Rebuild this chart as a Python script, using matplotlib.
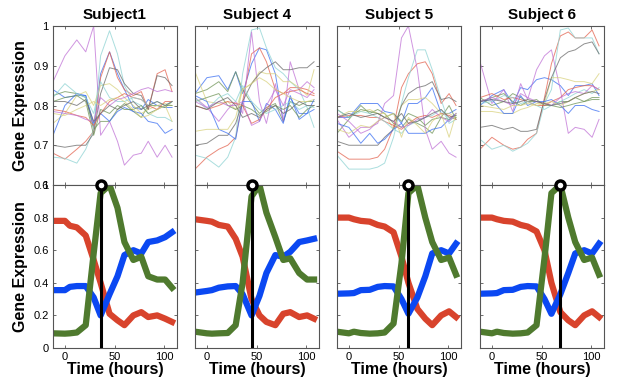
import numpy as np
import matplotlib
matplotlib.use("Agg")
import matplotlib.pyplot as plt

plt.rcParams['font.family'] = ['Liberation Sans', 'DejaVu Sans']

# sampling times (hours)
t = [-12, 0, 12, 21, 29, 36, 45, 53, 60, 69, 77, 84, 93, 101, 108]
tb = [-12, 0, 5, 12, 21, 29, 36, 45, 53, 60, 69, 77, 84, 93, 101, 108]

subjects = ["Subject1", "Subject 4", "Subject 5", "Subject 6"]
peak_time = [36, 45, 60, 69]

# top panels: 14 genes per subject
s1_genes = [
    [0.84, 0.82, 0.825, 0.825, 0.745, 0.88, 0.935, 0.88, 0.84, 0.795, 0.79, 0.815, 0.80, 0.795, 0.795],
    [0.825, 0.835, 0.83, 0.82, 0.74, 0.76, 0.76, 0.79, 0.805, 0.785, 0.77, 0.80, 0.80, 0.795, 0.81],
    [0.68, 0.665, 0.69, 0.71, 0.735, 0.87, 0.935, 0.87, 0.84, 0.825, 0.835, 0.79, 0.88, 0.89, 0.835],
    [0.67, 0.667, 0.655, 0.69, 0.74, 0.925, 0.988, 0.93, 0.85, 0.81, 0.80, 0.78, 0.77, 0.77, 0.76],
    [0.86, 0.925, 0.965, 0.935, 1.0, 0.725, 0.76, 0.71, 0.65, 0.675, 0.68, 0.71, 0.67, 0.70, 0.67],
    [0.755, 0.78, 0.825, 0.835, 0.80, 0.85, 0.855, 0.84, 0.82, 0.80, 0.78, 0.79, 0.80, 0.805, 0.80],
    [0.70, 0.695, 0.70, 0.70, 0.73, 0.83, 0.895, 0.89, 0.855, 0.83, 0.825, 0.79, 0.875, 0.87, 0.85],
    [0.725, 0.80, 0.83, 0.825, 0.755, 0.78, 0.76, 0.785, 0.795, 0.785, 0.78, 0.76, 0.755, 0.73, 0.74],
    [0.81, 0.82, 0.825, 0.81, 0.725, 0.79, 0.78, 0.80, 0.79, 0.79, 0.80, 0.78, 0.79, 0.80, 0.80],
    [0.79, 0.785, 0.775, 0.77, 0.75, 0.78, 0.81, 0.82, 0.83, 0.82, 0.815, 0.80, 0.79, 0.81, 0.81],
    [0.82, 0.855, 0.83, 0.82, 0.78, 0.86, 0.82, 0.81, 0.81, 0.82, 0.815, 0.80, 0.81, 0.80, 0.81],
    [0.785, 0.78, 0.775, 0.765, 0.76, 0.82, 0.80, 0.815, 0.82, 0.83, 0.84, 0.845, 0.835, 0.84, 0.835],
    [0.78, 0.775, 0.79, 0.80, 0.81, 0.80, 0.815, 0.82, 0.81, 0.79, 0.77, 0.775, 0.79, 0.80, 0.76],
    [0.81, 0.81, 0.80, 0.815, 0.76, 0.78, 0.80, 0.79, 0.80, 0.81, 0.79, 0.80, 0.81, 0.80, 0.81],
]
s4_genes = [
    [0.83, 0.87, 0.875, 0.84, 0.885, 0.83, 0.905, 0.945, 0.94, 0.88, 0.76, 0.82, 0.78, 0.78, 0.79],
    [0.83, 0.84, 0.86, 0.835, 0.885, 0.84, 0.805, 0.78, 0.795, 0.805, 0.76, 0.81, 0.80, 0.81, 0.81],
    [0.64, 0.67, 0.69, 0.70, 0.72, 0.81, 0.93, 0.945, 0.91, 0.84, 0.83, 0.845, 0.845, 0.84, 0.83],
    [0.675, 0.667, 0.645, 0.67, 0.72, 0.88, 0.99, 0.995, 0.945, 0.895, 0.88, 0.86, 0.84, 0.795, 0.745],
    [0.82, 0.795, 0.76, 0.79, 0.81, 0.78, 0.985, 0.81, 0.755, 0.855, 0.76, 0.91, 0.84, 0.86, 0.845],
    [0.885, 0.81, 0.805, 0.81, 0.79, 0.84, 0.855, 0.885, 0.88, 0.88, 0.86, 0.86, 0.845, 0.825, 0.89],
    [0.70, 0.705, 0.725, 0.725, 0.755, 0.81, 0.855, 0.88, 0.895, 0.91, 0.89, 0.89, 0.895, 0.895, 0.91],
    [0.825, 0.81, 0.74, 0.73, 0.715, 0.81, 0.81, 0.76, 0.805, 0.79, 0.755, 0.825, 0.765, 0.78, 0.815],
    [0.81, 0.82, 0.83, 0.80, 0.79, 0.80, 0.79, 0.775, 0.785, 0.80, 0.79, 0.80, 0.77, 0.79, 0.80],
    [0.80, 0.79, 0.80, 0.81, 0.805, 0.80, 0.755, 0.765, 0.79, 0.82, 0.83, 0.835, 0.84, 0.83, 0.825],
    [0.82, 0.79, 0.82, 0.83, 0.81, 0.85, 0.81, 0.79, 0.78, 0.79, 0.80, 0.81, 0.79, 0.80, 0.795],
    [0.81, 0.795, 0.81, 0.80, 0.80, 0.81, 0.75, 0.76, 0.80, 0.84, 0.80, 0.84, 0.83, 0.82, 0.84],
    [0.735, 0.74, 0.74, 0.74, 0.77, 0.84, 0.855, 0.87, 0.86, 0.84, 0.83, 0.82, 0.81, 0.81, 0.815],
    [0.80, 0.79, 0.81, 0.82, 0.80, 0.77, 0.78, 0.77, 0.79, 0.80, 0.78, 0.79, 0.81, 0.80, 0.80],
]
s5_genes = [
    [0.77, 0.77, 0.805, 0.805, 0.805, 0.785, 0.78, 0.755, 0.805, 0.805, 0.82, 0.845, 0.78, 0.78, 0.79],
    [0.73, 0.765, 0.80, 0.78, 0.79, 0.78, 0.755, 0.745, 0.765, 0.755, 0.745, 0.73, 0.77, 0.80, 0.765],
    [0.685, 0.665, 0.665, 0.665, 0.67, 0.69, 0.745, 0.845, 0.88, 0.905, 0.91, 0.88, 0.805, 0.83, 0.80],
    [0.675, 0.64, 0.64, 0.64, 0.645, 0.655, 0.72, 0.805, 0.87, 0.94, 0.94, 0.89, 0.815, 0.755, 0.765],
    [0.765, 0.72, 0.745, 0.745, 0.755, 0.805, 0.825, 0.97, 1.0, 0.89, 0.74, 0.69, 0.71, 0.68, 0.67],
    [0.77, 0.785, 0.785, 0.79, 0.78, 0.78, 0.74, 0.80, 0.815, 0.815, 0.82, 0.805, 0.78, 0.78, 0.77],
    [0.71, 0.70, 0.70, 0.70, 0.70, 0.72, 0.74, 0.80, 0.83, 0.845, 0.85, 0.86, 0.815, 0.82, 0.81],
    [0.755, 0.745, 0.705, 0.73, 0.705, 0.715, 0.74, 0.755, 0.73, 0.73, 0.73, 0.74, 0.745, 0.765, 0.78],
    [0.79, 0.77, 0.79, 0.785, 0.78, 0.77, 0.78, 0.76, 0.78, 0.77, 0.75, 0.765, 0.77, 0.765, 0.77],
    [0.77, 0.775, 0.775, 0.77, 0.77, 0.76, 0.75, 0.74, 0.755, 0.77, 0.775, 0.77, 0.78, 0.775, 0.765],
    [0.79, 0.77, 0.785, 0.78, 0.77, 0.76, 0.74, 0.73, 0.75, 0.76, 0.77, 0.775, 0.79, 0.76, 0.775],
    [0.78, 0.76, 0.73, 0.74, 0.76, 0.77, 0.76, 0.745, 0.75, 0.765, 0.77, 0.79, 0.77, 0.76, 0.78],
    [0.74, 0.73, 0.75, 0.745, 0.76, 0.77, 0.78, 0.72, 0.77, 0.75, 0.73, 0.76, 0.78, 0.72, 0.78],
    [0.77, 0.78, 0.77, 0.775, 0.78, 0.77, 0.76, 0.78, 0.755, 0.76, 0.77, 0.78, 0.79, 0.77, 0.775],
]
s6_genes = [
    [0.80, 0.825, 0.84, 0.805, 0.845, 0.84, 0.865, 0.87, 0.865, 0.85, 0.825, 0.85, 0.85, 0.855, 0.825],
    [0.82, 0.80, 0.81, 0.83, 0.82, 0.81, 0.81, 0.805, 0.80, 0.81, 0.81, 0.82, 0.81, 0.82, 0.82],
    [0.69, 0.72, 0.70, 0.69, 0.695, 0.715, 0.73, 0.82, 0.905, 0.975, 0.985, 0.97, 0.97, 0.99, 0.95],
    [0.715, 0.69, 0.70, 0.685, 0.695, 0.705, 0.73, 0.805, 0.84, 0.99, 0.995, 0.97, 0.97, 0.97, 0.93],
    [0.91, 0.805, 0.84, 0.785, 0.855, 0.815, 0.89, 0.925, 0.94, 0.84, 0.73, 0.745, 0.74, 0.72, 0.765],
    [0.785, 0.785, 0.78, 0.78, 0.79, 0.795, 0.805, 0.805, 0.87, 0.87, 0.865, 0.86, 0.86, 0.855, 0.88],
    [0.745, 0.75, 0.74, 0.745, 0.735, 0.735, 0.74, 0.815, 0.87, 0.92, 0.935, 0.94, 0.955, 0.96, 0.93],
    [0.81, 0.815, 0.78, 0.78, 0.825, 0.80, 0.81, 0.81, 0.815, 0.80, 0.78, 0.80, 0.80, 0.79, 0.785],
    [0.81, 0.82, 0.83, 0.81, 0.80, 0.81, 0.815, 0.80, 0.80, 0.795, 0.80, 0.805, 0.81, 0.815, 0.815],
    [0.82, 0.83, 0.815, 0.82, 0.815, 0.81, 0.80, 0.80, 0.81, 0.82, 0.84, 0.845, 0.85, 0.85, 0.84],
    [0.805, 0.81, 0.825, 0.82, 0.805, 0.81, 0.80, 0.79, 0.80, 0.81, 0.82, 0.83, 0.84, 0.83, 0.845],
    [0.81, 0.82, 0.81, 0.80, 0.83, 0.82, 0.81, 0.805, 0.80, 0.82, 0.83, 0.835, 0.83, 0.85, 0.84],
    [0.80, 0.795, 0.79, 0.80, 0.80, 0.805, 0.80, 0.805, 0.81, 0.80, 0.81, 0.82, 0.83, 0.835, 0.84],
    [0.81, 0.815, 0.81, 0.805, 0.81, 0.815, 0.81, 0.805, 0.80, 0.805, 0.81, 0.82, 0.83, 0.835, 0.83],
]
top_data = [s1_genes, s4_genes, s5_genes, s6_genes]

# bottom panels: three factor trajectories per subject
red_f = [
    [0.78, 0.78, 0.75, 0.74, 0.69, 0.54, 0.40, 0.21, 0.17, 0.14, 0.20, 0.22, 0.19, 0.20, 0.18, 0.16],
    [0.79, 0.78, 0.775, 0.755, 0.745, 0.67, 0.56, 0.30, 0.20, 0.16, 0.14, 0.21, 0.22, 0.19, 0.20, 0.18],
    [0.80, 0.80, 0.79, 0.78, 0.775, 0.755, 0.745, 0.71, 0.56, 0.40, 0.24, 0.18, 0.14, 0.20, 0.225, 0.19],
    [0.80, 0.80, 0.79, 0.78, 0.775, 0.755, 0.745, 0.715, 0.60, 0.40, 0.22, 0.17, 0.14, 0.20, 0.225, 0.19],
]
blue_f = [
    [0.355, 0.355, 0.375, 0.38, 0.38, 0.31, 0.20, 0.33, 0.44, 0.57, 0.60, 0.58, 0.65, 0.66, 0.68, 0.71],
    [0.34, 0.35, 0.355, 0.37, 0.378, 0.38, 0.33, 0.20, 0.32, 0.46, 0.57, 0.56, 0.59, 0.65, 0.66, 0.67],
    [0.333, 0.335, 0.337, 0.355, 0.357, 0.375, 0.38, 0.378, 0.30, 0.21, 0.31, 0.44, 0.58, 0.60, 0.58, 0.64],
    [0.333, 0.335, 0.337, 0.355, 0.357, 0.375, 0.38, 0.378, 0.30, 0.21, 0.33, 0.46, 0.58, 0.60, 0.58, 0.64],
]
green_f = [
    [0.09, 0.088, 0.09, 0.095, 0.14, 0.58, 0.95, 1.0, 0.86, 0.65, 0.54, 0.56, 0.44, 0.42, 0.42, 0.37],
    [0.10, 0.09, 0.088, 0.09, 0.092, 0.14, 0.40, 0.93, 1.0, 0.83, 0.68, 0.54, 0.55, 0.46, 0.42, 0.42],
    [0.10, 0.09, 0.10, 0.092, 0.088, 0.09, 0.095, 0.15, 0.52, 0.95, 1.0, 0.80, 0.65, 0.54, 0.555, 0.45],
    [0.10, 0.09, 0.10, 0.092, 0.088, 0.09, 0.095, 0.14, 0.55, 0.95, 1.0, 0.80, 0.65, 0.54, 0.555, 0.45],
]

gene_colors = ['#3b6ff2', '#6f9457', '#e3634f', '#8ed3d3', '#c072d6', '#d9d27f', '#6a6a6a']

W, H = 621, 383
fig = plt.figure(figsize=(W/100, H/100), dpi=100)
lefts = [53, 195, 337, 480]
aw = 124


def style(ax):
    for s in ax.spines.values():
        s.set_color('#555555')
        s.set_linewidth(0.8)
    ax.tick_params(direction='in', length=2.5, width=0.6, color='#555555',
                   top=True, right=True, labelsize=8, pad=3)


for i in range(4):
    axt = fig.add_axes([lefts[i]/W, (H-185)/H, aw/W, 159/H])
    axb = fig.add_axes([lefts[i]/W, (H-348)/H, aw/W, 163/H])

    for k, g in enumerate(top_data[i]):
        axt.plot(t, g, color=gene_colors[k % 7], lw=0.7, alpha=0.75)
    axt.set_xlim(-12, 113)
    axt.set_ylim(0.6, 1)
    axt.set_xticks([0, 50, 100])
    axt.set_xticklabels([])
    axt.set_yticks([0.6, 0.7, 0.8, 0.9, 1.0])
    axt.set_title(subjects[i], fontsize=11, fontweight='bold', pad=5)
    style(axt)

    axb.plot(tb, red_f[i], color='#d8432c', lw=4.5, solid_joinstyle='round')
    axb.plot(tb, blue_f[i], color='#0b48f2', lw=4.5, solid_joinstyle='round')
    axb.plot(tb, green_f[i], color='#4f7a2e', lw=4.5, solid_joinstyle='round')
    axb.plot([peak_time[i], peak_time[i]], [0, 1], color='k', lw=2.2, zorder=5)
    axb.plot([peak_time[i]], [1], 'o', ms=6.5, mfc='white', mec='k', mew=2.5,
             clip_on=False, zorder=6)
    axb.set_xlim(-12, 113)
    axb.set_ylim(0, 1)
    axb.set_xticks([0, 50, 100])
    axb.set_xticklabels(['0', '50', '100'])
    axb.set_yticks([0, 0.2, 0.4, 0.6, 0.8, 1.0])
    axb.set_xlabel('Time (hours)', fontsize=11.5, fontweight='bold', labelpad=0)
    style(axb)

    if i == 0:
        axt.set_yticklabels(['0.6', '0.7', '0.8', '0.9', '1'])
        axb.set_yticklabels(['0', '0.2', '0.4', '0.6', '0.8', '1'])
        axt.set_ylabel('Gene Expression', fontsize=11.5, fontweight='bold', labelpad=4)
        axb.set_ylabel('Gene Expression', fontsize=11.5, fontweight='bold', labelpad=4)
    else:
        axt.set_yticklabels([])
        axb.set_yticklabels([])

fig.savefig("out.png", dpi=100)
